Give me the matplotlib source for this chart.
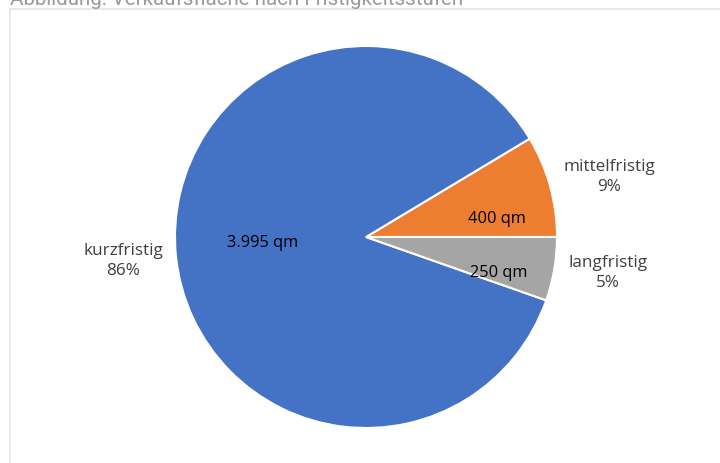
import matplotlib
matplotlib.use('Agg')
import matplotlib.pyplot as plt

# data (order drawn counter-clockwise starting at 3 o'clock)
categories = ['mittelfristig', 'kurzfristig', 'langfristig']
flaeche_qm = [400, 3995, 250]
value_labels = ['400 qm', '3.995 qm', '250 qm']
colors = ['#ED7D31', '#4472C4', '#A5A5A5']

W, H = 720, 463
fig = plt.figure(figsize=(W / 100, H / 100), dpi=100)
ax = fig.add_axes([0, 0, 1, 1])
ax.set_aspect('equal')
ax.axis('off')

cx, cy, r = 366, H - 237, 191
total = sum(flaeche_qm)

wedges, _ = ax.pie(flaeche_qm, colors=colors, startangle=0, counterclock=True,
                   center=(cx, cy), radius=r,
                   wedgeprops=dict(edgecolor='white', linewidth=1.5))
ax.set_xlim(0, W)
ax.set_ylim(0, H)

# positions in pixel coords of the picture (x, y from top)
inner_pos = [(497, 219), (263, 243), (499, 273)]
outer_pos = [(609, 177), (123, 261), (608, 273)]

font = 'Open Sans'
for i, cat in enumerate(categories):
    pct = round(flaeche_qm[i] / total * 100)
    x, y = inner_pos[i]
    ax.text(x, H - y, value_labels[i], ha='center', va='center',
            fontsize=11.8, color='black', family=font)
    x, y = outer_pos[i]
    ax.text(x, H - y, f'{cat}\n{pct}%', ha='center', va='center',
            fontsize=12.3, color='#404040', family=font, linespacing=1.4)

# frame of the chart area (only top and left visible)
ax.plot([10, 10, W + 5], [-5, H - 9, H - 9], color='#e4e4e4', linewidth=1.2,
        clip_on=False)

# clipped caption above the chart
fig.text(10 / W, 1 - 5 / H, 'Abbildung: Verkaufsfläche nach Fristigkeitsstufen',
         ha='left', va='baseline', fontsize=14.8, color='#9a9a9a', family='Roboto')

fig.savefig('out.png', dpi=100)
